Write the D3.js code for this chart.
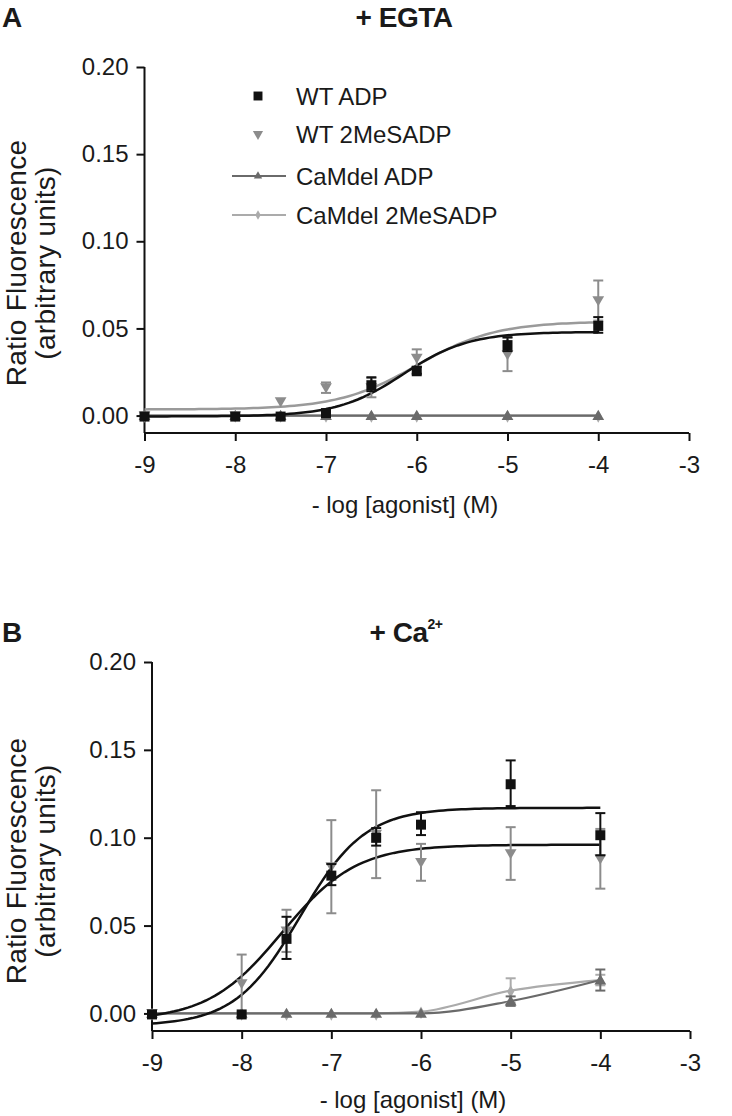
<!DOCTYPE html>
<html><head><meta charset="utf-8">
<script src="https://cdn.jsdelivr.net/npm/d3@7"></script>
<style>
html,body{margin:0;padding:0;background:#fff;}
svg text{font-family:"Liberation Sans",Arial,Helvetica,sans-serif;fill:#1a1a1a;}
</style></head>
<body><svg id="chart" width="732" height="1116"></svg>
<script>
// ---------- data ----------
const doses = [-9, -8, -7.5, -7, -6.5, -6, -5, -4];
const xTicks = [-9, -8, -7, -6, -5, -4, -3];
const yTicks = [0, 0.05, 0.10, 0.15, 0.20];
const seriesNames = ["WT ADP", "WT 2MeSADP", "CaMdel ADP", "CaMdel 2MeSADP"];

// Panel A (+ EGTA)
const aWtAdpMean = [0, 0, 0, 0.002, 0.018, 0.026, 0.041, 0.052];
const aWtAdpErr  = [0, 0, 0, 0.001, 0.004, 0.002, 0.004, 0.0045];
const aWt2Mean   = [0, 0, 0.008, 0.016, 0.016, 0.033, 0.035, 0.066];
const aWt2Err    = [0, 0, 0, 0.003, 0.0055, 0.005, 0.0095, 0.0115];
const aCamAdpMean = [0, 0, 0, 0, 0, 0, 0, 0];
const aCam2Mean   = [0, 0, 0, 0, 0, 0, 0, 0];
// fitted sigmoid parameters: [bottom, top, logEC50, hill]
const aFitWtAdp = [-0.0005, 0.048, -6.15, 1.2];
const aFitWt2   = [0.0035, 0.054, -6.0, 1.0];

// Panel B (+ Ca2+)
const bWtAdpMean = [0, 0, 0.043, 0.079, 0.1005, 0.108, 0.131, 0.102];
const bWtAdpErr  = [0, 0, 0.012, 0.006, 0.005, 0.0065, 0.013, 0.012];
const bWt2Mean   = [0, 0.017, 0.047, 0.0835, 0.102, 0.086, 0.091, 0.088];
const bWt2Err    = [0, 0.0165, 0.012, 0.0265, 0.025, 0.0105, 0.015, 0.017];
const bCamAdpMean = [0, 0, 0, 0, 0, 0, 0.007, 0.019];
const bCamAdpErr  = [0, 0, 0, 0, 0, 0, 0.0027, 0.006];
const bCam2Mean   = [0, 0, 0, 0, 0, 0.001, 0.013, 0.019];
const bCam2Err    = [0, 0, 0, 0, 0, 0, 0.007, 0.003];
const bFitWtAdp = [-0.007, 0.117, -7.35, 1.2];
const bFitWt2   = [-0.004, 0.096, -7.55, 1.05];

// ---------- styles ----------
const C_BLACK = "#111", C_WT2 = "#8c8c8c", C_CAM = "#6a6a6a", C_CAM2 = "#ababab";

const svg = d3.select("#chart");

function sig(p, x) { return p[0] + (p[1] - p[0]) / (1 + Math.pow(10, (p[2] - x) * p[3])); }

function panel(cfg) {
  const x = d3.scaleLinear().domain([-9, -3]).range([cfg.x0, cfg.x1]);
  const y = d3.scaleLinear().domain([-0.01, 0.20]).range([cfg.y0, cfg.y1]);
  const g = svg.append("g");

  // axes
  const yAx = d3.axisLeft(y).tickValues(yTicks).tickFormat(d3.format(".2f")).tickSize(8).tickSizeOuter(0).tickPadding(8);
  const ya = g.append("g").attr("transform", `translate(${cfg.x0},0)`).call(yAx);
  ya.select(".domain").attr("d", `M0,${y(0.20)}V${cfg.y0}`);
  const xAx = d3.axisBottom(x).tickValues(xTicks).tickFormat(d3.format("d")).tickSize(8).tickSizeOuter(0).tickPadding(15);
  const xa = g.append("g").attr("transform", `translate(0,${cfg.y0})`).call(xAx);
  xa.select(".domain").attr("d", `M${cfg.x0},0H${cfg.x1}`);
  [ya, xa].forEach(a => {
    a.selectAll("path,line").attr("stroke", C_BLACK).attr("stroke-width", 2);
    a.selectAll("text").style("font-size", "24px").attr("fill", "#1a1a1a");
  });
  xa.selectAll("text").text(d => d < 0 ? "-" + Math.abs(d) : d);

  // axis titles
  g.append("text").attr("x", cfg.xTitleX).attr("y", cfg.xTitleY)
    .attr("text-anchor", "middle").style("font-size", "24px").text("- log [agonist] (M)");
  const yl = g.append("text").attr("transform", `translate(0,${cfg.yLabelY}) rotate(-90)`)
    .attr("text-anchor", "middle").style("font-size", "28px").style("letter-spacing", "0.3px");
  yl.append("tspan").attr("x", 0).attr("y", 26).text("Ratio Fluorescence");
  yl.append("tspan").attr("x", 0).attr("y", 55).text("(arbitrary units)");

  // CaMdel connecting lines (drawn first, beneath)
  const line = d3.line().x(d => x(d[0])).y(d => y(d[1])).curve(d3.curveMonotoneX);
  const lineData = (m) => doses.map((d, i) => [d, m[i]]);
  g.append("path").attr("d", line(lineData(cfg.cam2))).attr("fill", "none").attr("stroke", C_CAM2).attr("stroke-width", 2.2);
  g.append("path").attr("d", line(lineData(cfg.camAdp))).attr("fill", "none").attr("stroke", C_CAM).attr("stroke-width", 2.2);

  // fit curves
  const xs = d3.range(0, 101).map(i => -9 + i * 0.05);
  const fitLine = d3.line().x(d => x(d)).curve(d3.curveLinear);
  cfg.fits.forEach(f => {
    g.append("path").attr("d", fitLine.y(d => y(sig(f.p, d)))(xs))
      .attr("fill", "none").attr("stroke", f.color).attr("stroke-width", 2.5);
  });

  // error bars + markers
  function errBars(m, e, color) {
    const gg = g.append("g").attr("stroke", color).attr("stroke-width", 2);
    doses.forEach((d, i) => {
      if (!e || !e[i]) return;
      const cx = x(d), t = y(m[i] + e[i]), b = y(m[i] - e[i]);
      gg.append("line").attr("x1", cx).attr("x2", cx).attr("y1", t).attr("y2", b);
      gg.append("line").attr("x1", cx - 5).attr("x2", cx + 5).attr("y1", t).attr("y2", t);
      gg.append("line").attr("x1", cx - 5).attr("x2", cx + 5).attr("y1", b).attr("y2", b);
    });
  }
  function markers(m, type, size, color, rot) {
    doses.forEach((d, i) => {
      g.append("path").attr("d", d3.symbol().type(type).size(size)())
        .attr("transform", `translate(${x(d)},${y(m[i]) + (rot ? -1 : 1)}) rotate(${rot || 0})`)
        .attr("fill", color);
    });
  }
  errBars(cfg.cam2, cfg.cam2Err, C_CAM2);
  markers(cfg.cam2, d3.symbolDiamond, 45, C_CAM2);
  errBars(cfg.camAdp, cfg.camAdpErr, C_CAM);
  markers(cfg.camAdp, d3.symbolTriangle, 60, C_CAM);
  errBars(cfg.wt2, cfg.wt2Err, C_WT2);
  markers(cfg.wt2, d3.symbolTriangle, 60, C_WT2, 180);
  errBars(cfg.wtAdp, cfg.wtAdpErr, C_BLACK);
  markers(cfg.wtAdp, d3.symbolSquare, 100, C_BLACK);

  // titles
  g.append("text").attr("x", 2).attr("y", cfg.titleY).style("font-size", "28px").style("font-weight", "bold").text(cfg.letter);
  const tt = g.append("text").attr("x", cfg.titleX).attr("y", cfg.titleY).attr("text-anchor", "middle")
    .style("font-size", "28px").style("font-weight", "bold").style("letter-spacing", "-0.5px");
  tt.append("tspan").text(cfg.title);
  if (cfg.sup) tt.append("tspan").attr("dy", -13).style("font-size", "14px").text(cfg.sup);
  return { x, y, g };
}

const A = panel({
  x0: 144.5, x1: 689, y0: 433, y1: 67, letter: "A", title: "+ EGTA", titleY: 27, titleX: 404,
  xTitleX: 405, xTitleY: 513, yLabelY: 263,
  wtAdp: aWtAdpMean, wtAdpErr: aWtAdpErr, wt2: aWt2Mean, wt2Err: aWt2Err,
  camAdp: aCamAdpMean, camAdpErr: null, cam2: aCam2Mean, cam2Err: null,
  fits: [{ p: aFitWt2, color: "#9a9a9a" }, { p: aFitWtAdp, color: C_BLACK }]
});
const B = panel({
  x0: 152, x1: 690, y0: 1031, y1: 662, letter: "B", title: "+ Ca", sup: "2+", titleY: 642, titleX: 406,
  xTitleX: 413, xTitleY: 1108, yLabelY: 861,
  wtAdp: bWtAdpMean, wtAdpErr: bWtAdpErr, wt2: bWt2Mean, wt2Err: bWt2Err,
  camAdp: bCamAdpMean, camAdpErr: bCamAdpErr, cam2: bCam2Mean, cam2Err: bCam2Err,
  fits: [{ p: bFitWt2, color: C_BLACK }, { p: bFitWtAdp, color: C_BLACK }]
});

// legend (panel A)
const legendY = [96, 134, 176, 215];
const lg = svg.append("g");
const legendMarks = [
  { type: d3.symbolSquare, size: 80, color: C_BLACK, rot: 0, line: false },
  { type: d3.symbolTriangle, size: 45, color: C_WT2, rot: 180, line: false },
  { type: d3.symbolTriangle, size: 30, color: C_CAM, rot: 0, line: true },
  { type: d3.symbolDiamond, size: 25, color: C_CAM2, rot: 0, line: true }
];
seriesNames.forEach((name, i) => {
  const yy = legendY[i], mk = legendMarks[i];
  if (mk.line) lg.append("line").attr("x1", 232).attr("x2", 286).attr("y1", yy).attr("y2", yy)
    .attr("stroke", mk.color).attr("stroke-width", 2.2);
  lg.append("path").attr("d", d3.symbol().type(mk.type).size(mk.size)())
    .attr("transform", `translate(258,${yy}) rotate(${mk.rot})`).attr("fill", mk.color);
  lg.append("text").attr("x", 296).attr("y", yy).attr("dy", "0.36em").style("font-size", "24px")
    .text(name);
});
</script></body></html>
